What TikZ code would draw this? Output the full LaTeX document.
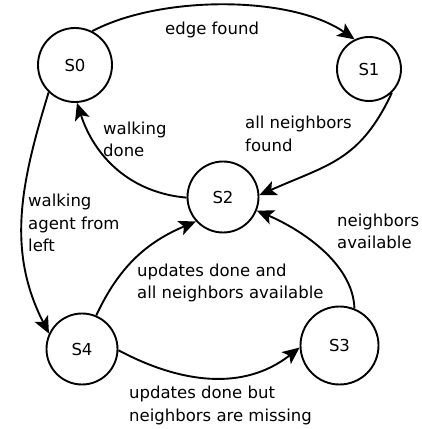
\documentclass[tikz,border=0pt]{standalone}
\usepackage{fontspec}
\setmainfont{DejaVu Sans}
\usetikzlibrary{arrows.meta}
\tikzset{
  st/.style={circle, draw=black, line width=1.9pt, inner sep=0pt,
    font=\fontsize{16.5}{22.5}\selectfont},
  lbl/.style={anchor=west, align=left, inner sep=0pt,
    font=\fontsize{16.5}{22.5}\selectfont},
  trans/.style={-{Stealth[length=17pt, width=15pt, inset=4pt]}, draw=black, line width=1.9pt},
}

\begin{document}
\begin{tikzpicture}[x=1pt, y=1pt]
    \useasboundingbox (0,0) rectangle (422,429);
    \node[st, minimum size=74pt] (s0) at (75,364) {S0};
    \node[st, minimum size=64pt] (s1) at (369,360) {S1};
    \node[st, minimum size=71pt] (s2) at (223,232) {S2};
    \node[st, minimum size=78pt] (s3) at (339.5,83.5) {S3};
    \node[st, minimum size=71pt] (s4) at (82,80) {S4};
    \node[lbl] (l01) at (165,399) {edge found};
    \node[lbl] (l12) at (245,295) {all neighbors\\found};
    \node[lbl] (l20) at (103,289.5) {walking\\done};
    \node[lbl] (l04) at (28,206) {walking\\agent from\\left};
    \node[lbl] (l42) at (137,146) {updates done and\\all neighbors available};
    \node[lbl] (l32) at (337,197.5) {neighbors\\available};
    \node[lbl] (l43) at (129,23.5) {updates done but\\neighbors are missing};
    \draw[trans] (s0.63) to[out=28, in=145, looseness=0.75] (s1.116);
    \draw[trans] (s1.314) to[out=245, in=24, looseness=1.15] (s2.3);
    \draw[trans] (s3.68) to[out=92, in=337, looseness=0.85] (s2.338);
    \draw[trans] (s2.181) to[out=175, in=288] (s0.273);
    \draw[trans] (s0.226) to[out=253, in=117] (s4.155);
    \draw[trans] (s4.67) to[out=65, in=203] (s2.222);
    \draw[trans] (s4.358) to[out=-28, in=218] (s3.183);
\end{tikzpicture}
\end{document}
